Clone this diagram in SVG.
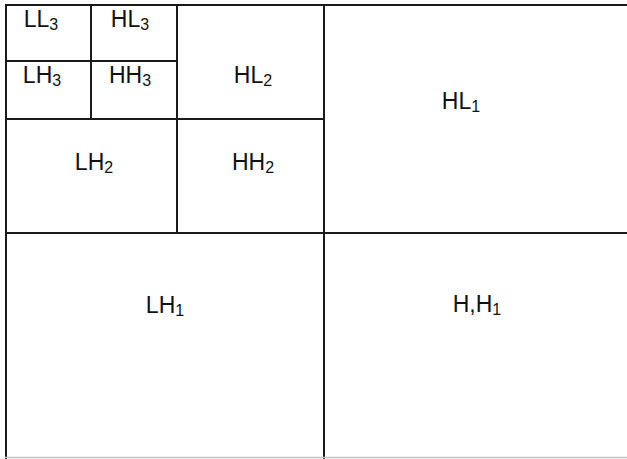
<svg xmlns="http://www.w3.org/2000/svg" width="627" height="459" viewBox="0 0 627 459">
<style>
.ln{stroke:#1a1a1a;stroke-width:2;fill:none}
.lb{font-family:"Liberation Sans",Arial,sans-serif;font-size:23px;fill:#111;text-anchor:middle}
.sb{font-size:16px}
</style>
<rect width="627" height="459" fill="#fff"/>
<g id="connectors">
<line class="ln" x1="5" y1="5" x2="627" y2="5"/>
<line class="ln" x1="6" y1="4" x2="6" y2="459"/>
<line class="ln" x1="324" y1="4" x2="324" y2="459"/>
<line class="ln" x1="5" y1="233" x2="627" y2="233"/>
<line class="ln" x1="5" y1="119" x2="324" y2="119"/>
<line class="ln" x1="177" y1="4" x2="177" y2="233"/>
<line class="ln" x1="5" y1="61" x2="177" y2="61"/>
<line class="ln" x1="91" y1="4" x2="91" y2="119"/>
<line x1="5" y1="457.5" x2="627" y2="457.5" stroke="#c4c4c4" stroke-width="1.5"/>
</g>
<g id="LL3"><text class="lb" x="41" y="27">LL<tspan class="sb" dy="3">3</tspan></text></g>
<g id="HL3"><text class="lb" x="130" y="27">HL<tspan class="sb" dy="3">3</tspan></text></g>
<g id="LH3"><text class="lb" x="42" y="83">LH<tspan class="sb" dy="3">3</tspan></text></g>
<g id="HH3"><text class="lb" x="130" y="83">HH<tspan class="sb" dy="3">3</tspan></text></g>
<g id="HL2"><text class="lb" x="253" y="83">HL<tspan class="sb" dy="3">2</tspan></text></g>
<g id="LH2"><text class="lb" x="94" y="170">LH<tspan class="sb" dy="3">2</tspan></text></g>
<g id="HH2"><text class="lb" x="253" y="170">HH<tspan class="sb" dy="3">2</tspan></text></g>
<g id="HL1"><text class="lb" x="461" y="109">HL<tspan class="sb" dy="3">1</tspan></text></g>
<g id="LH1"><text class="lb" x="165" y="313">LH<tspan class="sb" dy="3">1</tspan></text></g>
<g id="HH1"><text class="lb" x="477" y="312">H,H<tspan class="sb" dy="3">1</tspan></text></g>
</svg>
